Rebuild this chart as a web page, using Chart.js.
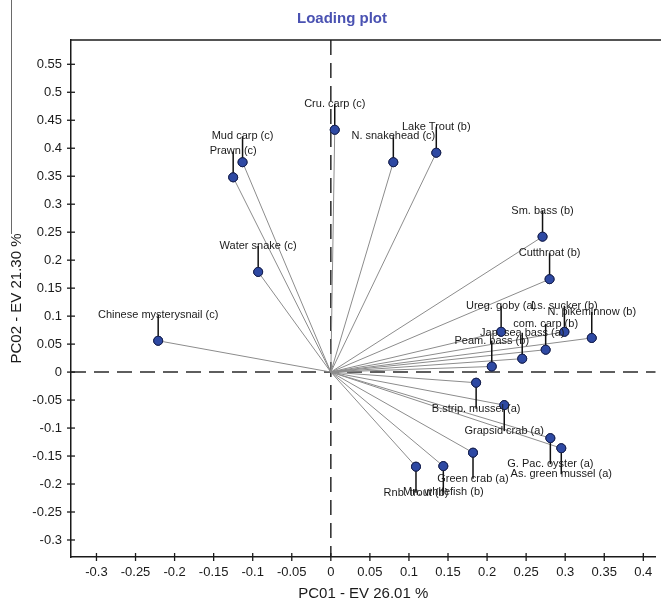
<!DOCTYPE html>
<html>
<head>
<meta charset="utf-8">
<script src="https://cdn.jsdelivr.net/npm/chart.js@4.4.1/dist/chart.umd.min.js"></script>
<style>
  html, body { margin: 0; padding: 0; background: #ffffff; }
  #wrap { width: 661px; height: 603px; }
</style>
</head>
<body>
<div id="wrap"><canvas id="c" width="661" height="603"></canvas></div>
<script>
// Loading plot: PC1 / PC2 loadings per species
const species = [
  'Cru. carp (c)', 'Mud carp (c)', 'Prawn (c)', 'Water snake (c)', 'N. snakehead (c)',
  'Lake Trout (b)', 'Sm. bass (b)', 'Cutthroat (b)', 'Chinese mysterysnail (c)',
  'Ureg. goby (a)', 'Ls. sucker (b)', 'N. pikeminnow (b)', 'com. carp (b)',
  'Jap. sea bass (a)', 'Peam. bass (b)', 'B.strip. mussel (a)', 'Grapsid crab (a)',
  'G. Pac. oyster (a)', 'As. green mussel (a)', 'Green crab (a)', 'Mn. whitefish (b)',
  'Rnb. trout (b)'
];
const pc1 = [
  0.005, -0.113, -0.125, -0.093, 0.080,
  0.135, 0.271, 0.280, -0.221,
  0.218, 0.299, 0.334, 0.275,
  0.245, 0.206, 0.186, 0.222,
  0.281, 0.295, 0.182, 0.144,
  0.109
];
const pc2 = [
  0.433, 0.375, 0.348, 0.179, 0.375,
  0.392, 0.242, 0.166, 0.056,
  0.072, 0.072, 0.061, 0.040,
  0.024, 0.010, -0.019, -0.059,
  -0.118, -0.136, -0.144, -0.168,
  -0.169
];
const xTicks = [-0.3, -0.25, -0.2, -0.15, -0.1, -0.05, 0, 0.05, 0.1, 0.15, 0.2, 0.25, 0.3, 0.35, 0.4];
const xTickLabels = ['-0.3', '-0.25', '-0.2', '-0.15', '-0.1', '-0.05', '0', '0.05', '0.1', '0.15', '0.2', '0.25', '0.3', '0.35', '0.4'];
const yTicks = [-0.3, -0.25, -0.2, -0.15, -0.1, -0.05, 0, 0.05, 0.1, 0.15, 0.2, 0.25, 0.3, 0.35, 0.4, 0.45, 0.5, 0.55];
const yTickLabels = ['-0.3', '-0.25', '-0.2', '-0.15', '-0.1', '-0.05', '0', '0.05', '0.1', '0.15', '0.2', '0.25', '0.3', '0.35', '0.4', '0.45', '0.5', '0.55'];

const FONT = '"Liberation Sans", Arial, sans-serif';
const INK = '#1a1a1a';

const points = pc1.map((x, i) => ({ x: x, y: pc2[i] }));

// one ray from the origin to each loading
const rayDatasets = points.map(p => ({
  type: 'scatter',
  data: [{ x: 0, y: 0 }, p],
  showLine: true,
  borderColor: '#8c8c8c',
  borderWidth: 1,
  pointRadius: 0,
  pointHoverRadius: 0,
  order: 2
}));

const pointDataset = {
  type: 'scatter',
  data: points,
  pointRadius: 4.5,
  pointHoverRadius: 4.5,
  pointBackgroundColor: '#2e49a3',
  pointBorderColor: '#17204d',
  pointBorderWidth: 1,
  order: 1
};

// dashed zero lines and the top frame edge, under the rays
const framePlugin = {
  id: 'framePlugin',
  beforeDatasetsDraw(chart) {
    const { ctx, chartArea: a, scales } = chart;
    const x0 = scales.x.getPixelForValue(0);
    const y0 = scales.y.getPixelForValue(0);
    ctx.save();
    ctx.strokeStyle = '#2a2a2a';
    ctx.lineWidth = 1.5;
    ctx.setLineDash([15, 8]);
    ctx.beginPath();
    ctx.moveTo(a.left, y0);
    ctx.lineTo(a.right, y0);
    ctx.stroke();
    ctx.beginPath();
    ctx.moveTo(x0, a.top);
    ctx.lineTo(x0, a.bottom);
    ctx.stroke();
    ctx.setLineDash([]);
    ctx.strokeStyle = INK;
    ctx.beginPath();
    ctx.moveTo(a.left, a.top);
    ctx.lineTo(chart.width, a.top);
    ctx.stroke();
    ctx.restore();
  }
};

// leader lines, species labels, crossing tick marks and the heading
const labelPlugin = {
  id: 'labelPlugin',
  afterDatasetsDraw(chart) {
    const { ctx, chartArea: a, scales } = chart;
    const sx = scales.x, sy = scales.y;
    ctx.save();

    // leader lines: above the point for positive PC2, below for negative
    ctx.strokeStyle = '#111111';
    ctx.lineWidth = 1.5;
    points.forEach(p => {
      const px = sx.getPixelForValue(p.x);
      const py = sy.getPixelForValue(p.y);
      const dir = p.y >= 0 ? -1 : 1;
      ctx.beginPath();
      ctx.moveTo(px, py + dir * 4);
      ctx.lineTo(px, py + dir * 26);
      ctx.stroke();
    });
    // redraw point markers over the leader stubs
    points.forEach(p => {
      const px = sx.getPixelForValue(p.x);
      const py = sy.getPixelForValue(p.y);
      ctx.beginPath();
      ctx.arc(px, py, 4.5, 0, Math.PI * 2);
      ctx.fillStyle = '#2e49a3';
      ctx.fill();
      ctx.lineWidth = 1;
      ctx.strokeStyle = '#17204d';
      ctx.stroke();
    });

    ctx.font = '11px ' + FONT;
    ctx.fillStyle = INK;
    ctx.textAlign = 'center';
    ctx.textBaseline = 'middle';
    points.forEach((p, i) => {
      const px = sx.getPixelForValue(p.x);
      const py = sy.getPixelForValue(p.y);
      const dir = p.y >= 0 ? -1 : 1;
      ctx.fillText(species[i], px, py + dir * 26);
    });

    // tick marks crossing both axes
    ctx.strokeStyle = INK;
    ctx.lineWidth = 1.3;
    sy.ticks.forEach(t => {
      const y = sy.getPixelForValue(t.value);
      ctx.beginPath();
      ctx.moveTo(a.left - 4, y);
      ctx.lineTo(a.left + 4, y);
      ctx.stroke();
    });
    sx.ticks.forEach(t => {
      const x = sx.getPixelForValue(t.value);
      ctx.beginPath();
      ctx.moveTo(x, a.bottom - 4);
      ctx.lineTo(x, a.bottom + 4);
      ctx.stroke();
    });

    // figure frame edge on the far left
    ctx.strokeStyle = '#6a6a6a';
    ctx.lineWidth = 1;
    ctx.beginPath();
    ctx.moveTo(11.5, 0);
    ctx.lineTo(11.5, 234);
    ctx.stroke();

    // heading
    ctx.font = 'bold 15px ' + FONT;
    ctx.fillStyle = '#4a52b2';
    ctx.textAlign = 'center';
    ctx.textBaseline = 'middle';
    ctx.fillText('Loading plot', 342, 19);
    ctx.restore();
  }
};

new Chart(document.getElementById('c'), {
  type: 'scatter',
  data: { datasets: [...rayDatasets, pointDataset] },
  options: {
    responsive: false,
    animation: false,
    devicePixelRatio: 1,
    layout: { padding: { top: 40, left: 0, right: 0, bottom: 0 } },
    plugins: {
      legend: { display: false },
      tooltip: { enabled: false },
      title: { display: false }
    },
    scales: {
      x: {
        type: 'linear',
        min: -0.3326,
        max: 0.4156,
        afterBuildTicks: s => { s.ticks = xTicks.map(v => ({ value: v })); },
        afterFit: s => { s.height = 46; },
        grid: { display: false, drawTicks: false },
        border: { display: true, color: INK, width: 1.5 },
        ticks: {
          color: INK,
          font: { family: FONT, size: 13 },
          padding: 8,
          maxRotation: 0,
          autoSkip: false,
          callback: (v, i) => xTickLabels[i]
        },
        title: {
          display: true,
          text: 'PC01 - EV 26.01 %',
          color: INK,
          font: { family: FONT, size: 15 },
          padding: { top: 0, bottom: 0 }
        }
      },
      y: {
        type: 'linear',
        min: -0.3304,
        max: 0.5934,
        afterBuildTicks: s => { s.ticks = yTicks.map(v => ({ value: v })); },
        afterFit: s => { s.width = 71; },
        grid: { display: false, drawTicks: false },
        border: { display: true, color: INK, width: 1.5 },
        ticks: {
          color: INK,
          font: { family: FONT, size: 13 },
          padding: 9,
          autoSkip: false,
          callback: (v, i) => yTickLabels[i]
        },
        title: {
          display: true,
          text: 'PC02 - EV 21.30 %',
          color: INK,
          font: { family: FONT, size: 15 },
          padding: { top: 8, bottom: 0 }
        }
      }
    }
  },
  plugins: [framePlugin, labelPlugin]
});
</script>
</body>
</html>
